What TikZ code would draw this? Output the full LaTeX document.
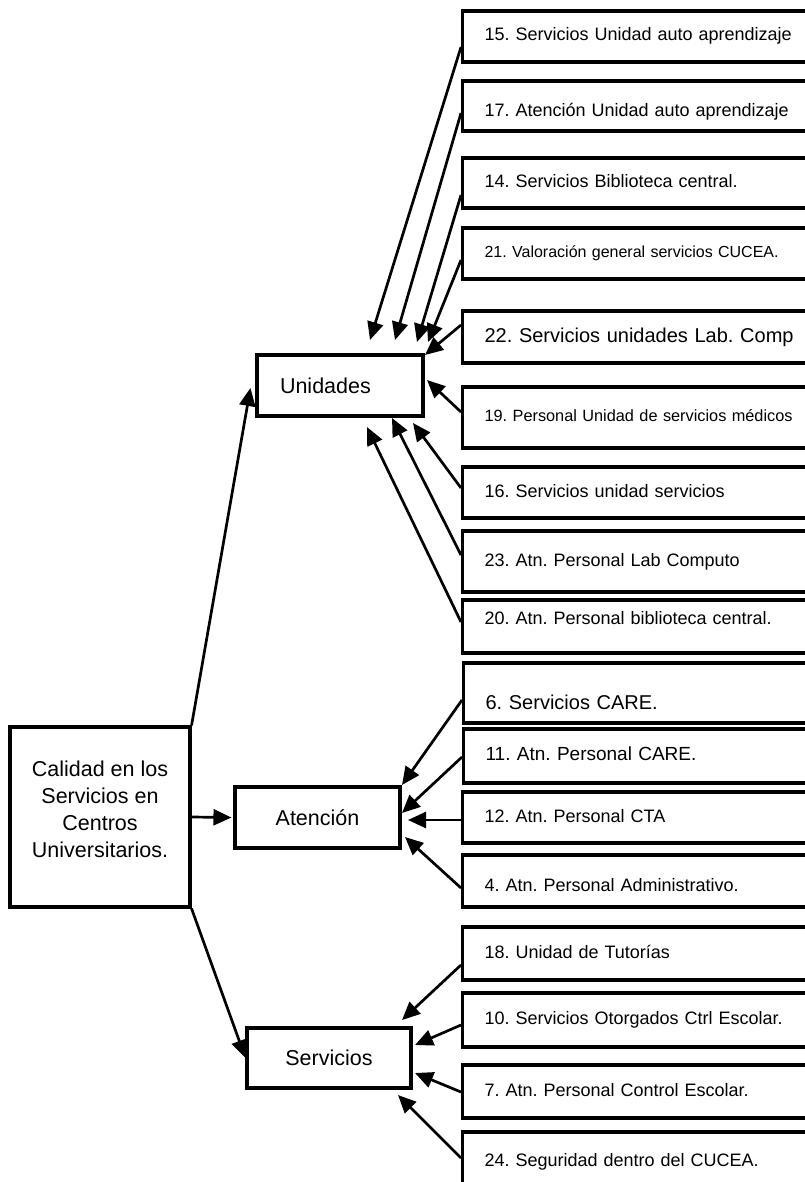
\documentclass[tikz,border=0pt]{standalone}
\usepackage{fontspec}
\setmainfont{Liberation Sans}
\usetikzlibrary{arrows.meta}
\frenchspacing
\begin{document}
\begin{tikzpicture}[x=1pt,y=-1pt,
  rbox/.style={draw, line width=3.1pt, anchor=west, text width=340pt, align=left,
    inner xsep=22pt, inner ysep=0pt, font=\fontsize{18}{21}\selectfont,
    text height=13pt, text depth=4pt},
  cbox/.style={draw, line width=3.1pt, inner sep=0pt, font=\fontsize{21.5}{27}\selectfont},
  arr/.style={line width=2.7pt, -{Triangle[length=18pt,width=16pt]}}]
\useasboundingbox (0,0) rectangle (804,1182);
\fill[white] (0,0) rectangle (804,1182);

% central nodes
\node[cbox, minimum width=180pt, minimum height=180pt,
  label={[align=center, font=\fontsize{21.5}{27}\selectfont, yshift=8pt]center:Calidad en los\\Servicios en\\Centros\\Universitarios.}] (big) at (100,817) {};
\node[cbox, minimum width=166pt, minimum height=61pt, text width=120pt, align=left, inner xsep=23pt] (uni) at (340,385.5) {Unidades};
\node[cbox, minimum width=165pt, minimum height=61pt] (aten) at (317.5,817.5) {Atención};
\node[cbox, minimum width=164pt, minimum height=60pt] (serv) at (329,1058) {Servicios};

% right boxes
\node[rbox, minimum height=51pt] (b15) at (461,36.5) {15. Servicios Unidad auto aprendizaje};
\node[rbox, minimum height=50pt, text height=25pt] (b17) at (461,106) {17. Atención Unidad auto aprendizaje};
\node[rbox, minimum height=50pt] (b14) at (461,183) {14. Servicios Biblioteca central.};
\node[rbox, minimum height=51pt, font=\fontsize{16}{19}\selectfont, text height=11.5pt, text depth=3.5pt] (b21) at (461,253.5) {21. Valoración general servicios CUCEA.};
\node[rbox, minimum height=52pt, font=\fontsize{20}{24}\selectfont, text height=14.3pt, text depth=4.2pt] (b22) at (461,337) {22. Servicios unidades Lab. Comp};
\node[rbox, minimum height=61pt, font=\fontsize{16.3}{19}\selectfont, text height=11.7pt, text depth=3.5pt] (b19) at (461,417.5) {19. Personal Unidad de servicios médicos};
\node[rbox, minimum height=51pt] (b16) at (461,492.5) {16. Servicios unidad servicios};
\node[rbox, minimum height=61pt] (b23) at (461,561.5) {23. Atn. Personal Lab Computo};
\node[rbox, minimum height=53pt, text depth=17pt] (b20) at (461,626.5) {20. Atn. Personal biblioteca central.};
\node[rbox, minimum height=60pt, font=\fontsize{20}{24}\selectfont, text height=38pt, text depth=4.2pt] (b6) at (462,693) {6. Servicios CARE.};
\node[rbox, minimum height=54pt, font=\fontsize{19}{23}\selectfont, text height=13.6pt] (b11) at (462,756) {11. Atn. Personal CARE.};
\node[rbox, minimum height=51pt] (b12) at (461,817.5) {12. Atn. Personal CTA};
\node[rbox, minimum height=52pt, text height=25pt] (b4) at (461,881) {4. Atn. Personal Administrativo.};
\node[rbox, minimum height=53pt] (b18) at (461,953.5) {18. Unidad de Tutorías};
\node[rbox, minimum height=54pt] (b10) at (461,1020) {10. Servicios Otorgados Ctrl Escolar.};
\node[rbox, minimum height=53pt] (b7) at (461,1091.5) {7. Atn. Personal Control Escolar.};
\node[rbox, minimum height=60pt] (b24) at (461,1162) {24. Seguridad dentro del CUCEA.};

% main arrows
\draw[arr] (big.north east) -- ([shift={(-5,2.5)}]uni.west);
\draw[arr] (big.east) -- ([shift={(-2,0)}]aten.west);
\draw[arr] (big.south east) -- (serv.west);

% arrows into Unidades
\draw[arr] ([shift={(0,10.5)}]b15.west) -- ([shift={(30,-45.5)}]uni.center);
\draw[arr] ([shift={(0,7)}]b17.west) -- ([shift={(55,-45.5)}]uni.center);
\draw[arr] ([shift={(0,12)}]b14.west) -- ([shift={(77,-43.5)}]uni.center);
\draw[arr] ([shift={(0,6.5)}]b21.west) -- ([shift={(88,-43.5)}]uni.center);
\draw[arr] ([shift={(0,-12)}]b22.west) -- ([shift={(85,-30.5)}]uni.center);
\draw[arr] ([shift={(0,-5.5)}]b19.west) -- ([shift={(87,-5.5)}]uni.center);
\draw[arr] ([shift={(0,-4.5)}]b16.west) -- ([shift={(73,37.5)}]uni.center);
\draw[arr] ([shift={(0,-6.5)}]b23.west) -- ([shift={(52,32.5)}]uni.center);
\draw[arr] ([shift={(0,-4.5)}]b20.west) -- ([shift={(27,41.5)}]uni.center);

% arrows into Atencion
\draw[arr] ([shift={(0,7)}]b6.west) -- ([shift={(84.5,-32.5)}]aten.center);
\draw[arr] ([shift={(0,1)}]b11.west) -- ([shift={(84.5,-4.5)}]aten.center);
\draw[arr] ([shift={(0,2.5)}]b12.west) -- ([shift={(90.5,2.5)}]aten.center);
\draw[arr] ([shift={(0,7)}]b4.west) -- ([shift={(87.5,19.5)}]aten.center);

% arrows into Servicios
\draw[arr] ([shift={(0,11.5)}]b18.west) -- ([shift={(73,-38)}]serv.center);
\draw[arr] ([shift={(0,5)}]b10.west) -- ([shift={(86,-13)}]serv.center);
\draw[arr] ([shift={(0,0.5)}]b7.west) -- ([shift={(86,15)}]serv.center);
\draw[arr] ([shift={(0,-4)}]b24.west) -- ([shift={(69,37)}]serv.center);
\end{tikzpicture}
\end{document}
